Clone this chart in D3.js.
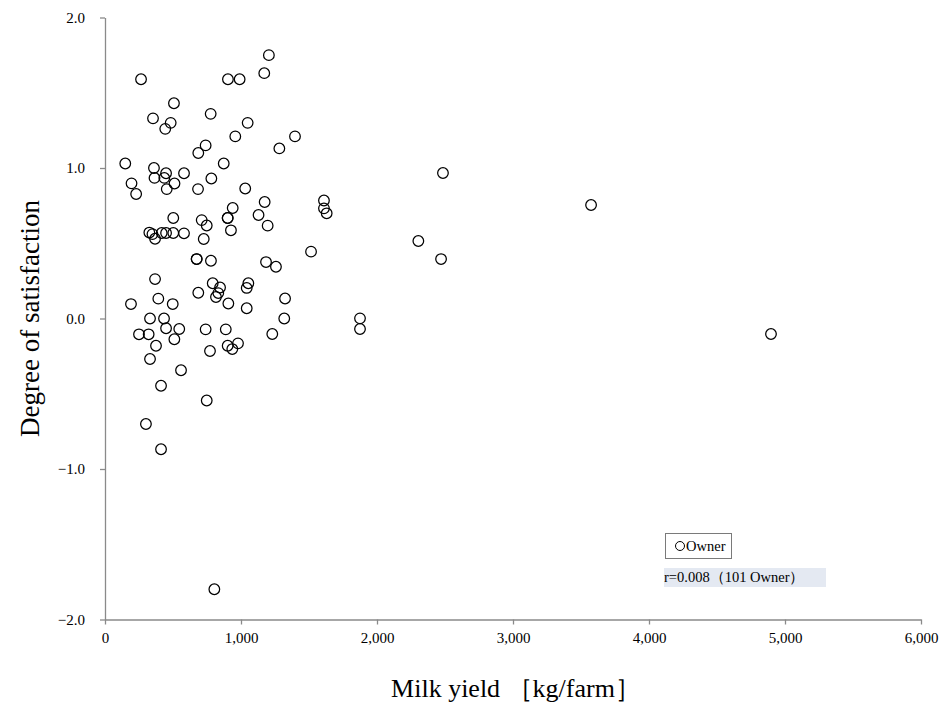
<!DOCTYPE html>
<html>
<head>
<meta charset="utf-8">
<script src="https://cdn.jsdelivr.net/npm/d3@7/dist/d3.min.js"></script>
<style>
  html, body { margin: 0; padding: 0; background: #fff; }
  svg { display: block; }
</style>
</head>
<body>
<svg id="chart" width="944" height="704"></svg>
<script>
// ---- data ----
const milkYield = [
  1205, 1171, 265, 904, 990, 507, 353, 483, 443, 777,
  1049, 958, 1397, 1282, 740, 686, 149, 873, 360, 449,
  364, 436, 581, 511, 454, 684, 782, 1031, 195, 229,
  1174, 939, 1610, 1610, 1630, 502, 711, 748, 902, 902,
  1129, 1196, 926, 326, 349, 368, 417, 449, 502, 581,
  726, 674, 674, 779, 368, 686, 792, 846, 833, 816,
  907, 1054, 1042, 1042, 191, 392, 498, 331, 434, 449,
  546, 250, 321, 375, 510, 740, 888, 772, 902, 936,
  978, 331, 559, 412, 748, 301, 412, 804, 1515, 1184,
  1257, 1324, 1318, 1230, 1875, 1875, 2304, 2471, 2485, 3574,
  4897
];
const satisfaction = [
  1.75, 1.63, 1.59, 1.59, 1.59, 1.43, 1.33, 1.30, 1.26, 1.36,
  1.30, 1.21, 1.21, 1.13, 1.15, 1.10, 1.03, 1.03, 1.00, 0.965,
  0.934, 0.934, 0.965, 0.897, 0.86, 0.86, 0.93, 0.864, 0.898, 0.827,
  0.774, 0.734, 0.784, 0.732, 0.699, 0.668, 0.654, 0.618, 0.668, 0.668,
  0.688, 0.617, 0.586, 0.571, 0.561, 0.53, 0.568, 0.568, 0.568, 0.566,
  0.528, 0.395, 0.395, 0.384, 0.262, 0.171, 0.234, 0.206, 0.169, 0.143,
  0.10, 0.234, 0.203, 0.068, 0.096, 0.132, 0.096, 0.0, 0.0, -0.065,
  -0.07, -0.105, -0.105, -0.181, -0.138, -0.072, -0.072, -0.216, -0.181, -0.203,
  -0.165, -0.269, -0.344, -0.447, -0.545, -0.701, -0.869, -1.799, 0.444, 0.375,
  0.344, 0.133, 0.0, -0.103, 0.001, -0.07, 0.515, 0.395, 0.967, 0.754,
  -0.103
];
const xTicks = [0, 1000, 2000, 3000, 4000, 5000, 6000];
const yTicks = [-2, -1, 0, 1, 2];
const seriesName = "Owner";
const statText = "r=0.008（101 Owner）";
const xTitle = "Milk yield ［kg/farm］";
const yTitle = "Degree of satisfaction";

// ---- chart ----
const svg = d3.select("#chart");
const serif = "'Liberation Serif', 'Times New Roman', serif";
const axisGray = "#8a8a8a";

const x = d3.scaleLinear().domain([0, 6000]).range([105, 921]);
const y = d3.scaleLinear().domain([-2, 2]).range([619.5, 17.5]);

const fmtX = d3.format(",");
const fmtY = d3.format(".1f");

const gx = svg.append("g")
  .attr("transform", `translate(0,${y(-2)})`)
  .call(d3.axisBottom(x).tickValues(xTicks).tickFormat(fmtX)
        .tickSize(5).tickSizeOuter(0).tickPadding(8));
const gy = svg.append("g")
  .attr("transform", `translate(${x(0)},0)`)
  .call(d3.axisLeft(y).tickValues(yTicks).tickFormat(fmtY)
        .tickSize(5).tickSizeOuter(0).tickPadding(15));

[gx, gy].forEach(g => {
  g.attr("font-family", serif);
  g.select(".domain").attr("stroke", axisGray).attr("stroke-width", 1.3);
  g.selectAll(".tick line").attr("stroke", axisGray).attr("stroke-width", 1.3);
  g.selectAll(".tick text")
    .attr("fill", "#000")
    .style("font-family", serif)
    .style("font-size", "15px");
});

// points
const pts = milkYield.map((v, i) => ({ x: v, y: satisfaction[i] }));
svg.append("g")
  .selectAll("circle")
  .data(pts)
  .join("circle")
  .attr("cx", d => x(d.x))
  .attr("cy", d => y(d.y))
  .attr("r", 5.3)
  .attr("fill", "none")
  .attr("stroke", "#000")
  .attr("stroke-width", 1.25);

// axis titles
svg.append("text")
  .attr("x", 516)
  .attr("y", 697)
  .attr("text-anchor", "middle")
  .style("font-family", serif)
  .style("font-size", "26px")
  .attr("fill", "#000")
  .text(xTitle);

svg.append("text")
  .attr("transform", `translate(39,${y(0)}) rotate(-90)`)
  .attr("text-anchor", "middle")
  .style("font-family", serif)
  .style("font-size", "27px")
  .attr("fill", "#000")
  .text(yTitle);

// legend box
const lg = svg.append("g");
lg.append("rect")
  .attr("x", 665.5).attr("y", 533.5)
  .attr("width", 66).attr("height", 25)
  .attr("fill", "#fff")
  .attr("stroke", "#7a7a7a").attr("stroke-width", 1);
lg.append("circle")
  .attr("cx", 680).attr("cy", 546)
  .attr("r", 4.5)
  .attr("fill", "none").attr("stroke", "#000").attr("stroke-width", 1);
lg.append("text")
  .attr("x", 686).attr("y", 551)
  .style("font-family", serif)
  .style("font-size", "14.5px")
  .attr("fill", "#000")
  .text(seriesName);

// statistic label
svg.append("rect")
  .attr("x", 664).attr("y", 568)
  .attr("width", 162).attr("height", 19)
  .attr("fill", "#e4e9f2");
svg.append("text")
  .attr("x", 664).attr("y", 582)
  .style("font-family", serif)
  .style("font-size", "14.5px")
  .attr("fill", "#000")
  .text(statText);
</script>
</body>
</html>
